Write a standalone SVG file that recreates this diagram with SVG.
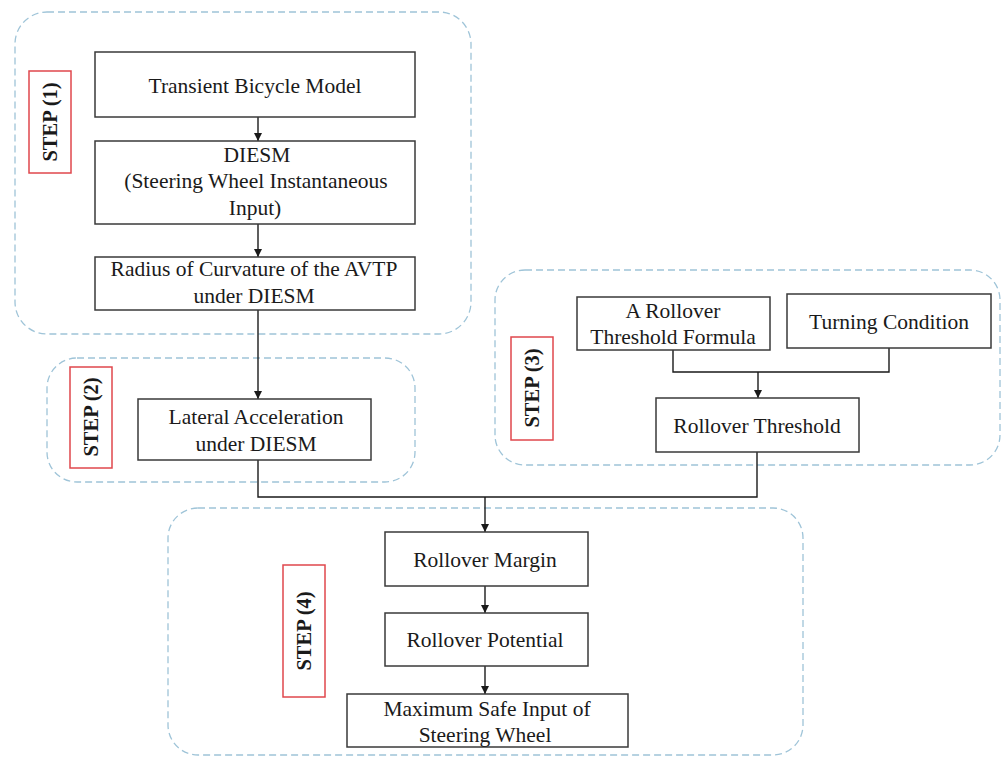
<svg xmlns="http://www.w3.org/2000/svg" width="1002" height="758" viewBox="0 0 1002 758">
<style>
.grp{fill:none;stroke:#9fc4d8;stroke-width:1.3;stroke-dasharray:7,4}
.box{fill:#fff;stroke:#3a3a3a;stroke-width:1.5}
.lab{fill:#fff;stroke:#e0474c;stroke-width:1.5}
.t{font-family:"Liberation Serif","Times New Roman",serif;font-size:21.5px;fill:#1a1a1a;text-anchor:middle}
.s{font-family:"Liberation Serif","Times New Roman",serif;font-size:20.5px;font-weight:bold;fill:#1a1a1a;text-anchor:middle}
.c{fill:none;stroke:#1a1a1a;stroke-width:1.4}
</style>
<defs>
<marker id="ah" viewBox="0 0 10 10" refX="10" refY="5" markerWidth="8" markerHeight="8" markerUnits="userSpaceOnUse" orient="auto">
<path d="M0,0 L10,5 L0,10 z" fill="#1a1a1a"/>
</marker>
</defs>
<g id="step1">
<rect class="grp" x="15" y="12" width="456" height="322" rx="32"/>
<rect class="lab" x="29" y="71" width="42" height="102"/>
<text class="s" transform="translate(57,122) rotate(-90)">STEP (1)</text>
</g>
<g id="step2">
<rect class="grp" x="47" y="358" width="368" height="124" rx="30"/>
<rect class="lab" x="70" y="367" width="42" height="101"/>
<text class="s" transform="translate(98,417) rotate(-90)">STEP (2)</text>
</g>
<g id="step3">
<rect class="grp" x="495" y="270" width="505" height="195" rx="30"/>
<rect class="lab" x="511" y="337" width="42" height="103"/>
<text class="s" transform="translate(539,388) rotate(-90)">STEP (3)</text>
</g>
<g id="step4">
<rect class="grp" x="168" y="508" width="635" height="247" rx="30"/>
<rect class="lab" x="283" y="565" width="42" height="132"/>
<text class="s" transform="translate(311,631) rotate(-90)">STEP (4)</text>
</g>
<g id="connectors">
<line class="c" x1="258" y1="117" x2="258" y2="141" marker-end="url(#ah)"/>
<line class="c" x1="258" y1="224" x2="258" y2="257" marker-end="url(#ah)"/>
<line class="c" x1="258" y1="310" x2="258" y2="399" marker-end="url(#ah)"/>
<polyline class="c" points="258,460 258,497 757,497 757,452"/>
<line class="c" x1="485" y1="497" x2="485" y2="532" marker-end="url(#ah)"/>
<polyline class="c" points="673,350 673,372 889,372 889,348"/>
<line class="c" x1="758" y1="372" x2="758" y2="398" marker-end="url(#ah)"/>
<line class="c" x1="485" y1="586" x2="485" y2="613" marker-end="url(#ah)"/>
<line class="c" x1="485" y1="666" x2="485" y2="694" marker-end="url(#ah)"/>
</g>
<g id="n_transient">
<rect class="box" x="95" y="52" width="320" height="65"/>
<text class="t" x="255" y="93">Transient Bicycle Model</text>
</g>
<g id="n_diesm">
<rect class="box" x="95" y="141" width="320" height="83"/>
<text class="t" x="257" y="162">DIESM</text>
<text class="t" x="256" y="188">(Steering Wheel Instantaneous</text>
<text class="t" x="255" y="215">Input)</text>
</g>
<g id="n_radius">
<rect class="box" x="95" y="257" width="320" height="53"/>
<text class="t" x="254" y="276">Radius of Curvature of the AVTP</text>
<text class="t" x="254" y="303">under DIESM</text>
</g>
<g id="n_lateral">
<rect class="box" x="138" y="399" width="233" height="61"/>
<text class="t" x="256" y="424">Lateral Acceleration</text>
<text class="t" x="256" y="451">under DIESM</text>
</g>
<g id="n_formula">
<rect class="box" x="577" y="297" width="193" height="53"/>
<text class="t" x="673" y="318">A Rollover</text>
<text class="t" x="673" y="344">Threshold Formula</text>
</g>
<g id="n_turning">
<rect class="box" x="787" y="294" width="204" height="54"/>
<text class="t" x="889" y="329">Turning Condition</text>
</g>
<g id="n_threshold">
<rect class="box" x="656" y="398" width="203" height="54"/>
<text class="t" x="757" y="433">Rollover Threshold</text>
</g>
<g id="n_margin">
<rect class="box" x="385" y="532" width="203" height="54"/>
<text class="t" x="485" y="567">Rollover Margin</text>
</g>
<g id="n_potential">
<rect class="box" x="385" y="613" width="203" height="53"/>
<text class="t" x="485" y="647">Rollover Potential</text>
</g>
<g id="n_maxsafe">
<rect class="box" x="347" y="694" width="281" height="53"/>
<text class="t" x="487" y="716">Maximum Safe Input of</text>
<text class="t" x="485" y="742">Steering Wheel</text>
</g>
</svg>
